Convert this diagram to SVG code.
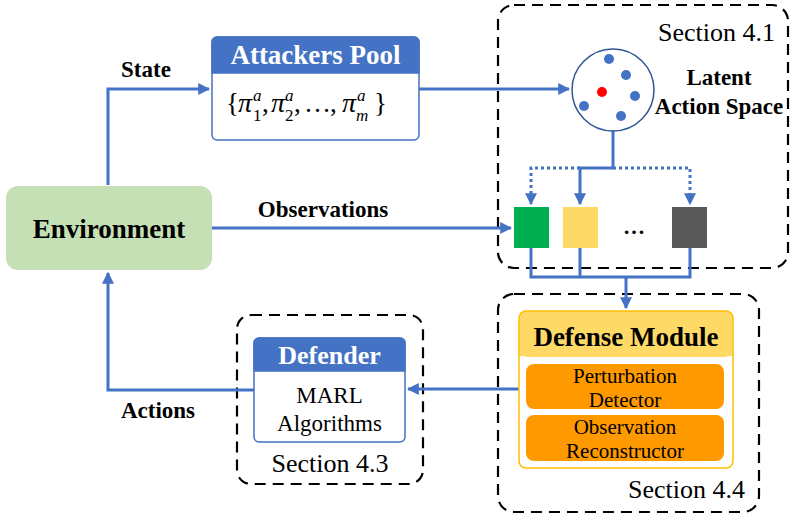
<svg xmlns="http://www.w3.org/2000/svg" width="790" height="514" viewBox="0 0 790 514">
<defs>
<marker id="ah" viewBox="0 0 10 10" refX="9" refY="5" markerWidth="4" markerHeight="4" orient="auto" markerUnits="strokeWidth">
<path d="M0,0 L10,5 L0,10 z" fill="#4472C4"/>
</marker>
<style>
.ln{fill:none;stroke:#4472C4;stroke-width:3}
.dot{stroke-dasharray:3 3}
.dash{fill:none;stroke:#000;stroke-width:2.2;stroke-dasharray:11 7}
.t{font-family:"Liberation Serif","Times New Roman",serif}
.b{font-weight:bold}
.lbl{font-family:"Liberation Serif",serif;font-weight:bold;font-size:23px;fill:#000}
.sec{font-family:"Liberation Serif",serif;font-size:26px;fill:#000}
.m{font-family:"Liberation Serif",serif;font-size:27px;fill:#000}
.mi{font-family:"Liberation Serif",serif;font-style:italic;font-size:28px;fill:#000}
.ms{font-family:"Liberation Serif",serif;font-style:italic;font-size:17px;fill:#000}
.mn{font-family:"Liberation Serif",serif;font-size:17px;fill:#000}
</style>
</defs>
<rect width="790" height="514" fill="#fff"/>

<g id="section41">
<rect class="dash" x="498" y="5" width="290" height="263" rx="16"/>
<text class="sec" x="775" y="41" text-anchor="end">Section 4.1</text>
</g>
<g id="section44">
<rect class="dash" x="498" y="294" width="261" height="218" rx="16"/>
<text class="sec" x="745" y="498" text-anchor="end">Section 4.4</text>
</g>
<g id="section43">
<rect class="dash" x="237" y="315" width="186" height="169" rx="14"/>
<text class="sec" x="330" y="472" text-anchor="middle">Section 4.3</text>
</g>

<g id="connectors">
<polyline class="ln" points="108,185 108,89 209,89" marker-end="url(#ah)"/>
<line class="ln" x1="419" y1="89" x2="569" y2="89" marker-end="url(#ah)"/>
<line class="ln" x1="212" y1="228" x2="511" y2="228" marker-end="url(#ah)"/>
<polyline class="ln" points="613,131 613,168 580,168 580,204" marker-end="url(#ah)"/>
<polyline class="ln dot" points="580,168 531,168 531,204" marker-end="url(#ah)"/>
<polyline class="ln dot" points="613,168 690,168 690,204" marker-end="url(#ah)"/>
<polyline class="ln" points="531,248 531,277 690,277 690,248"/>
<line class="ln" x1="580" y1="248" x2="580" y2="277"/>
<line class="ln" x1="626" y1="277" x2="626" y2="308" marker-end="url(#ah)"/>
<line class="ln" x1="519" y1="389" x2="408" y2="389" marker-end="url(#ah)"/>
<polyline class="ln" points="254,390 108,390 108,273" marker-end="url(#ah)"/>
</g>

<g id="labels">
<text class="lbl" x="146" y="77" text-anchor="middle">State</text>
<text class="lbl" x="323" y="217" text-anchor="middle">Observations</text>
<text class="lbl" x="158" y="418" text-anchor="middle">Actions</text>
</g>

<g id="environment">
<rect x="6" y="186" width="206" height="84" rx="12" fill="#C5E0B4"/>
<text class="t b" x="109" y="238" font-size="27" text-anchor="middle">Environment</text>
</g>

<g id="attackers-pool">
<rect x="212" y="37" width="207" height="103" rx="5" fill="#fff" stroke="#4472C4" stroke-width="1.5"/>
<path d="M212,73 V42 a5,5 0 0 1 5,-5 H414 a5,5 0 0 1 5,5 V73 z" fill="#4472C4" stroke="#4472C4" stroke-width="1.5"/>
<text class="t b" x="315.5" y="64" font-size="27" fill="#fff" text-anchor="middle">Attackers Pool</text>
<text class="m" x="226" y="112">{</text>
<text class="mi" x="238" y="112">π</text>
<text class="ms" x="253" y="101">a</text>
<text class="mn" x="253" y="121">1</text>
<text class="m" x="262" y="112">,</text>
<text class="mi" x="271" y="112">π</text>
<text class="ms" x="285" y="101">a</text>
<text class="mn" x="285" y="121">2</text>
<text class="m" x="294" y="112">,</text>
<text class="m" x="304" y="112">…</text>
<text class="m" x="330" y="112">,</text>
<text class="mi" x="342" y="112">π</text>
<text class="ms" x="357" y="101">a</text>
<text class="ms" x="356" y="121">m</text>
<text class="m" x="374" y="112">}</text>
</g>

<g id="latent-space">
<circle cx="613" cy="90" r="41" fill="#fff" stroke="#2F5597" stroke-width="1.5"/>
<circle cx="609" cy="59" r="5" fill="#4472C4"/>
<circle cx="626" cy="75" r="5" fill="#4472C4"/>
<circle cx="635" cy="96" r="5" fill="#4472C4"/>
<circle cx="584" cy="106" r="5" fill="#4472C4"/>
<circle cx="621" cy="116" r="5" fill="#4472C4"/>
<circle cx="602" cy="92" r="5" fill="#FF0000"/>
<text class="lbl" x="719" y="85" text-anchor="middle">Latent</text>
<text class="lbl" x="719" y="114" text-anchor="middle">Action Space</text>
</g>

<g id="attackers">
<rect x="514" y="207" width="35" height="41" fill="#00B050"/>
<rect x="563" y="207" width="35" height="41" fill="#FFD966"/>
<text class="t b" x="634" y="234" font-size="22" text-anchor="middle">…</text>
<rect x="672" y="207" width="35" height="41" fill="#595959"/>
</g>

<g id="defense-module">
<rect x="519" y="311" width="214" height="157" rx="7" fill="#fff"/>
<path d="M519,357 V318 a7,7 0 0 1 7,-7 H726 a7,7 0 0 1 7,7 V357 a7,7 0 0 0 -7,0 H526 a7,7 0 0 0 -7,0 z" fill="#FFD966"/>
<rect x="519" y="311" width="214" height="157" rx="7" fill="none" stroke="#FFC000" stroke-width="1.5"/>
<text class="t b" x="626" y="346" font-size="27" text-anchor="middle">Defense Module</text>
<rect x="526" y="364" width="198" height="45" rx="8" fill="#FF9900"/>
<text class="t" x="625" y="383" font-size="21" text-anchor="middle">Perturbation</text>
<text class="t" x="625" y="407" font-size="21" text-anchor="middle">Detector</text>
<rect x="526" y="415" width="198" height="46" rx="8" fill="#FF9900"/>
<text class="t" x="625" y="434" font-size="21" text-anchor="middle">Observation</text>
<text class="t" x="625" y="458" font-size="21" text-anchor="middle">Reconstructor</text>
</g>

<g id="defender">
<rect x="254" y="338" width="151" height="104" rx="5" fill="#fff" stroke="#4472C4" stroke-width="1.5"/>
<path d="M254,371 V343 a5,5 0 0 1 5,-5 H400 a5,5 0 0 1 5,5 V371 z" fill="#4472C4" stroke="#4472C4" stroke-width="1.5"/>
<text class="t b" x="329.5" y="364" font-size="26" fill="#fff" text-anchor="middle">Defender</text>
<text class="t" x="329.5" y="403" font-size="23" text-anchor="middle">MARL</text>
<text class="t" x="329.5" y="431" font-size="23" text-anchor="middle">Algorithms</text>
</g>
</svg>
